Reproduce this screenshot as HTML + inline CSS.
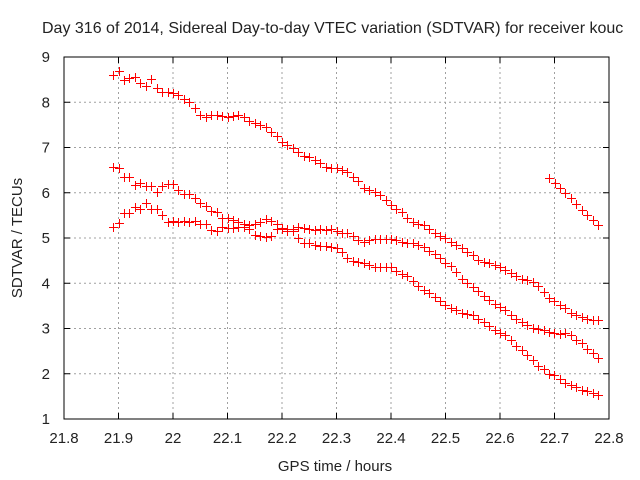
<!DOCTYPE html>
<html><head><meta charset="utf-8"><style>
body{margin:0;background:#fff}
svg{display:block}
text{font-family:"Liberation Sans",sans-serif;font-size:15px;fill:#222}
</style></head><body>
<svg id="c" width="640" height="480"></svg>
<script>
const xTicks=["21.8","21.9","22","22.1","22.2","22.3","22.4","22.5","22.6","22.7","22.8"];
const yTicks=["1","2","3","4","5","6","7","8","9"];
const tStart=21.89, tStep=0.01;
const seriesTop=[8.6,8.68,8.5,8.53,8.55,8.42,8.35,8.52,8.32,8.22,8.22,8.2,8.15,8.08,8.0,7.88,7.72,7.68,7.72,7.72,7.7,7.68,7.7,7.72,7.68,7.58,7.55,7.5,7.45,7.35,7.25,7.12,7.05,6.98,6.9,6.82,6.78,6.72,6.65,6.58,6.55,6.55,6.5,6.45,6.35,6.25,6.1,6.05,6.02,5.95,5.85,5.72,5.65,5.58,5.45,5.35,5.3,5.28,5.2,5.12,5.05,5.0,4.92,4.85,4.78,4.7,4.62,4.52,4.48,4.45,4.4,4.35,4.3,4.22,4.15,4.1,4.08,4.02,3.95,3.8,3.68,3.6,3.52,3.45,3.35,3.3,3.25,3.22,3.18,3.19];
const seriesMid=[6.57,6.55,6.35,6.35,6.17,6.22,6.15,6.15,6.02,6.15,6.2,6.2,6.06,5.98,5.98,5.88,5.78,5.7,5.6,5.58,5.45,5.45,5.4,5.35,5.3,5.28,5.3,5.35,5.42,5.38,5.3,5.22,5.2,5.2,5.25,5.22,5.2,5.18,5.2,5.18,5.2,5.15,5.12,5.1,5.05,4.95,4.92,4.95,4.97,4.98,4.98,4.97,4.95,4.92,4.9,4.9,4.85,4.8,4.72,4.65,4.55,4.45,4.38,4.25,4.1,4.0,3.92,3.82,3.72,3.62,3.55,3.48,3.4,3.3,3.2,3.15,3.08,3.02,3.0,2.97,2.92,2.9,2.88,2.9,2.85,2.75,2.68,2.55,2.45,2.35];
const seriesLow=[5.25,5.33,5.55,5.55,5.68,5.65,5.77,5.65,5.65,5.5,5.35,5.38,5.35,5.38,5.35,5.37,5.3,5.3,5.17,5.15,5.25,5.22,5.22,5.25,5.25,5.2,5.07,5.05,5.03,5.05,5.2,5.2,5.15,5.15,5.0,4.9,4.88,4.85,4.82,4.82,4.8,4.78,4.7,4.55,4.5,4.47,4.45,4.4,4.35,4.35,4.36,4.35,4.28,4.2,4.15,4.05,3.95,3.85,3.78,3.7,3.6,3.52,3.45,3.4,3.35,3.32,3.3,3.22,3.15,3.05,2.97,2.9,2.85,2.75,2.62,2.52,2.42,2.3,2.18,2.1,2.0,1.97,1.88,1.8,1.75,1.7,1.65,1.62,1.58,1.53];
const fragStart=22.69;
const seriesFrag=[6.33,6.22,6.1,6.0,5.88,5.75,5.62,5.5,5.4,5.28];

const L=64,R=609,T=57,B=419;
const X=v=>L+(v-21.8)/1.0*(R-L);
const Y=v=>B-(v-1)/8*(B-T);
const svg=document.getElementById('c');
const NS='http://www.w3.org/2000/svg';
function mk(tag,attrs,parent){const e=document.createElementNS(NS,tag);for(const k in attrs)e.setAttribute(k,attrs[k]);(parent||svg).appendChild(e);return e;}

const grid=mk('g',{});


xTicks.forEach(t=>{const x=X(parseFloat(t));
 if(x>L+1&&x<R-1)mk('line',{x1:x,y1:T,x2:x,y2:B,stroke:'#a0a0a0','stroke-dasharray':'2,3','stroke-width':1},grid);
 mk('line',{x1:x,y1:B,x2:x,y2:B-6,stroke:'#000'},grid);mk('line',{x1:x,y1:T,x2:x,y2:T+6,stroke:'#000'},grid);
 const tx=mk('text',{x:x,y:B+24,'text-anchor':'middle'});tx.textContent=t;
 
 
});
yTicks.forEach(t=>{const y=Y(parseFloat(t));
 if(y>T+1&&y<B-1)mk('line',{x1:L,y1:y,x2:R,y2:y,stroke:'#a0a0a0','stroke-dasharray':'2,3','stroke-width':1},grid);
 mk('line',{x1:L,y1:y,x2:L+6,y2:y,stroke:'#000'},grid);mk('line',{x1:R,y1:y,x2:R-6,y2:y,stroke:'#000'},grid);
 const tx=mk('text',{x:L-14,y:y+5,'text-anchor':'end'});tx.textContent=t;
 
 
});
const frame=mk('rect',{x:L,y:T,width:R-L,height:B-T,fill:'none',stroke:'#000','stroke-width':1});



function plot(arr,start,name){
 const g=mk('g',{stroke:'#ff0000','stroke-width':1});
 
 
 arr.forEach((v,i)=>{const x=Math.round(X(start+i*tStep))+0.5,y=Math.round(Y(v))+0.5;
  mk('path',{d:`M${x-4.5},${y}H${x+4.5}M${x},${y-4.5}V${y+4.5}`},g);});
}
plot(seriesTop,tStart,'series-top');
plot(seriesMid,tStart,'series-middle');
plot(seriesLow,tStart,'series-bottom');
plot(seriesFrag,fragStart,'series-fragment');

const title=mk('text',{x:42,y:33,style:'font-size:16px'});title.textContent='Day 316 of 2014, Sidereal Day-to-day VTEC variation (SDTVAR) for receiver kouc';


const xl=mk('text',{x:335,y:471,'text-anchor':'middle'});xl.textContent='GPS time / hours';


const yl=mk('text',{x:0,y:0,'text-anchor':'middle',transform:'translate(22,238) rotate(-90)'});yl.textContent='SDTVAR / TECUs';


</script>
</body></html>
